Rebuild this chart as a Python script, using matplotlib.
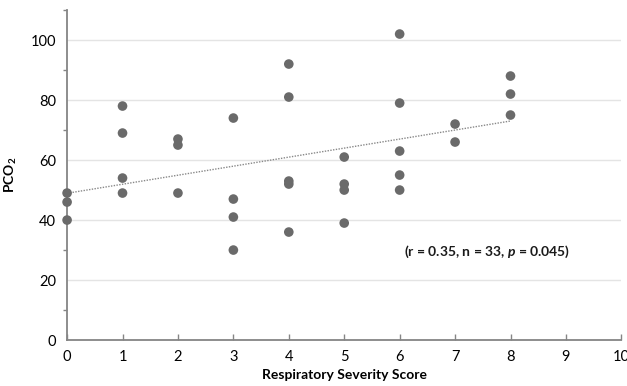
import numpy as np
import matplotlib
matplotlib.use('Agg')
import matplotlib.pyplot as plt

plt.rcParams['font.family'] = ['Lato', 'DejaVu Sans']
plt.rcParams['mathtext.fontset'] = 'custom'
plt.rcParams['mathtext.rm'] = 'Lato'
plt.rcParams['mathtext.it'] = 'Lato:italic'
plt.rcParams['mathtext.bf'] = 'Lato:bold'
plt.rcParams['mathtext.bfit'] = 'Lato:bold:italic'

# respiratory severity score and PCO2
score = [0, 0, 0,
         1, 1, 1, 1,
         2, 2, 2,
         3, 3, 3, 3,
         4, 4, 4, 4, 4,
         5, 5, 5, 5,
         6, 6, 6, 6, 6,
         7, 7,
         8, 8, 8]
pco2 = [49, 46, 40,
        78, 69, 54, 49,
        67, 65, 49,
        74, 47, 41, 30,
        92, 81, 53, 52, 36,
        61, 52, 50, 39,
        102, 79, 63, 55, 50,
        72, 66,
        88, 82, 75]
x_ticks = list(range(0, 11))
y_ticks = [0, 20, 40, 60, 80, 100]
stats_text = r'(r = 0.35, n = 33, $\mathbfit{p}$ = 0.045)'

x = np.array(score, dtype=float)
y = np.array(pco2, dtype=float)

fig = plt.figure(figsize=(6.27, 3.86), dpi=100)
ax = fig.add_axes([0.107, 0.119, 0.884, 0.855])

ax.set_xlim(0, 10)
ax.set_ylim(0, 110)

# light horizontal grid
for yt in y_ticks[1:]:
    ax.axhline(yt, color='#e4e4e4', lw=1.0, zorder=0)

ax.scatter(x, y, s=48, color='#6a6a6a', edgecolors='none', zorder=3, clip_on=False)

# linear trend line over data range
slope, intercept = np.polyfit(x, y, 1)
xl = np.array([x.min(), x.max()])
ax.plot(xl, slope * xl + intercept, color='#888888', lw=1.0, ls=(0, (1, 1)), zorder=2)

ax.text(7.58, 29.3, stats_text, ha='center', va='center', fontsize=10, fontweight='bold', color='#1a1a1a')

for side in ['top', 'right']:
    ax.spines[side].set_visible(False)
for side in ['left', 'bottom']:
    ax.spines[side].set_color('#858585')
    ax.spines[side].set_linewidth(1.3)

ax.set_xticks(x_ticks)
ax.set_yticks(y_ticks)
ax.set_yticks(range(10, 111, 20), minor=True)
ax.tick_params(axis='x', direction='in', length=4, color='#858585', width=1, labelsize=10.5, pad=7)
ax.tick_params(axis='y', which='both', direction='out', length=3, color='#858585', width=1, labelsize=10.5, pad=8)
ax.tick_params(axis='y', which='major', length=0)

ax.set_xlabel('Respiratory Severity Score', fontsize=10, fontweight='bold', labelpad=4)
ax.set_ylabel(r'PCO$_\mathbf{2}$', fontsize=10, fontweight='bold', labelpad=8)

fig.savefig('out.png', dpi=100)
